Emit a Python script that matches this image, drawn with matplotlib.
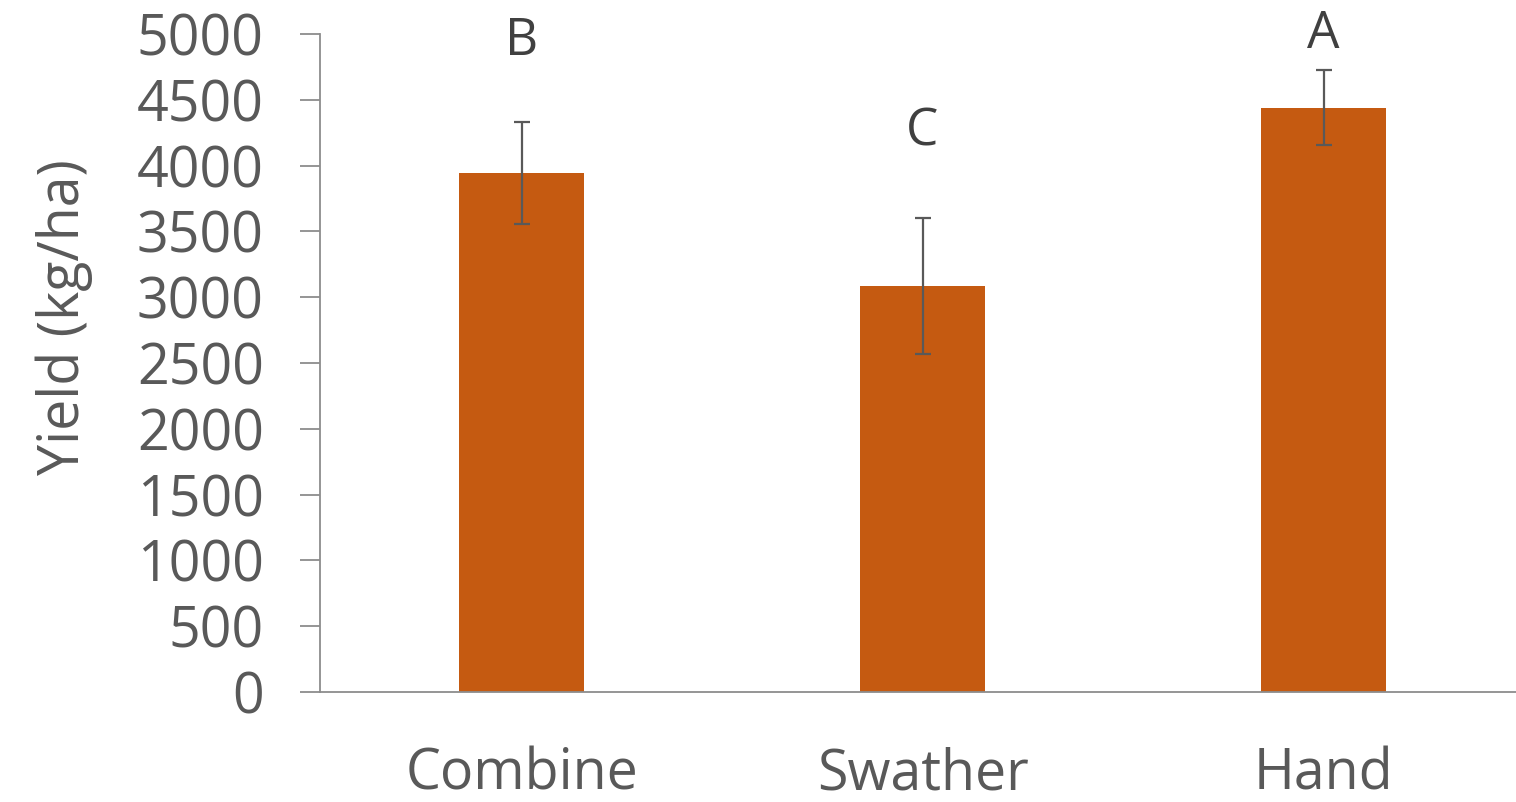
import matplotlib.pyplot as plt

plt.rcParams['font.family'] = ['Open Sans', 'DejaVu Sans']

# data
methods = ["Combine", "Swather", "Hand"]
yield_mean = [3945, 3085, 4440]
yield_err = [385, 515, 285]
letters = ["B", "C", "A"]
letter_y = [4940, 4255, 4995]

fig = plt.figure(figsize=(15.16, 8.02), dpi=100)
ax = fig.add_axes([320 / 1516, 1 - 692 / 802, 1 - 320 / 1516, (692 - 34) / 802])

x = range(len(methods))
ax.bar(x, yield_mean, width=0.312, color="#C55A11", zorder=2)
ax.errorbar(x, yield_mean, yerr=yield_err, fmt="none", ecolor="#595959",
            elinewidth=1.6, capsize=6, capthick=1.6, zorder=3)

for xi, lab, ly in zip(x, letters, letter_y):
    ax.text(xi, ly, lab, ha="center", va="center", fontsize=37, color="#404040")

ax.set_xlim(-0.5025, 2.48)
ax.set_ylim(0, 5000)
ax.set_yticks(range(0, 5001, 500))
ax.set_xticks(list(x))
ax.set_xticklabels(methods)

ax.tick_params(axis="y", direction="out", length=14.4, width=1.3, color="#8c8c8c",
               pad=26, labelsize=40, labelcolor="#595959")
ax.tick_params(axis="x", length=0, pad=39, labelsize=40, labelcolor="#595959")

for side in ["top", "right"]:
    ax.spines[side].set_visible(False)
for side in ["left", "bottom"]:
    ax.spines[side].set_color("#8c8c8c")
    ax.spines[side].set_linewidth(1.3)

ax.set_ylabel("Yield (kg/ha)", fontsize=40, color="#595959")
ax.yaxis.set_label_coords(-0.19, 0.57)

fig.savefig("out.png", dpi=100)
